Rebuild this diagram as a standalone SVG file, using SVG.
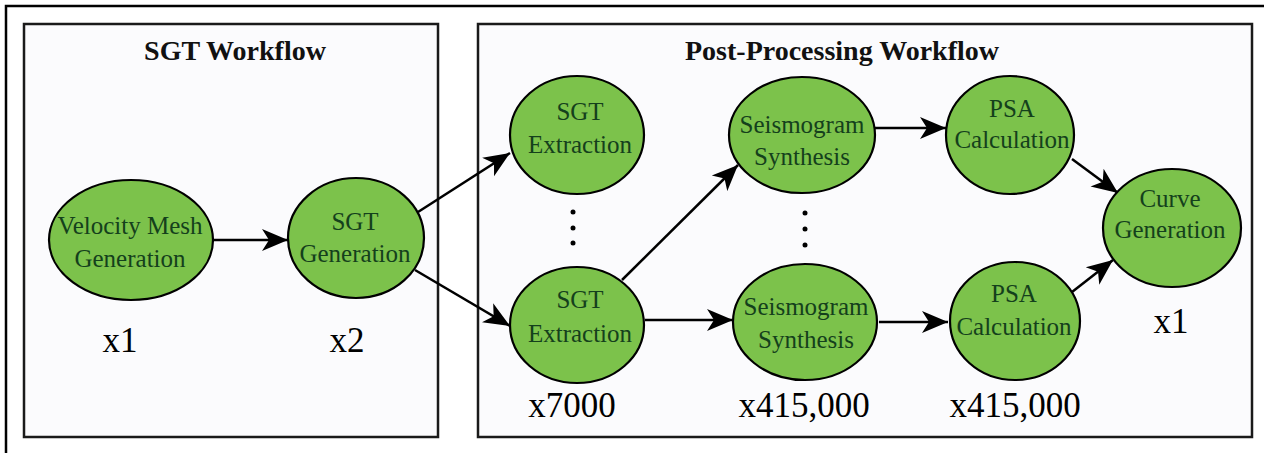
<svg xmlns="http://www.w3.org/2000/svg" width="1264" height="453" viewBox="0 0 1264 453">
<style>
.frame{fill:none;stroke:#000;stroke-width:2.5}
.box{fill:#fbfbfd;stroke:#1a1a1a;stroke-width:2.5}
.node{fill:#7cc24b;stroke:#000;stroke-width:2.2}
.lbl{font-size:25px;fill:#14401c;text-anchor:middle}
.title{font-size:28px;font-weight:bold;fill:#111;text-anchor:middle}
.count{font-size:35px;fill:#000;text-anchor:middle}
.edge{fill:none;stroke:#000;stroke-width:2.5;marker-end:url(#ah)}
.dot{fill:#000}
</style>
<defs>
<marker id="ah" markerUnits="userSpaceOnUse" markerWidth="28" markerHeight="24" viewBox="0 0 28 24" refX="26" refY="12" orient="auto">
<path d="M0,1 L26,12 L0,23 L7,12 z" fill="#000"/>
</marker>
</defs>
<rect width="1264" height="453" fill="#fff"/>
<path class="frame" d="M6,453 L6,6 L1264,6"/>
<g font-family="'Liberation Serif', 'DejaVu Serif', serif">
<g id="sgt-workflow">
<rect class="box" x="24" y="24" width="414" height="413"/>
<text class="title" x="235" y="60">SGT Workflow</text>
</g>
<g id="post-processing-workflow">
<rect class="box" x="478" y="24" width="774" height="413"/>
<text class="title" x="842" y="60">Post-Processing Workflow</text>
</g>
<g id="connectors">
<line class="edge" x1="213" y1="240" x2="288" y2="240"/>
<line class="edge" x1="418" y1="212" x2="510" y2="153"/>
<line class="edge" x1="415" y1="270" x2="510" y2="326"/>
<line class="edge" x1="622" y1="280" x2="738" y2="165"/>
<line class="edge" x1="645" y1="320" x2="733" y2="320"/>
<line class="edge" x1="875" y1="128" x2="946" y2="128"/>
<line class="edge" x1="879" y1="322" x2="948" y2="322"/>
<line class="edge" x1="1072" y1="159" x2="1118" y2="193"/>
<line class="edge" x1="1072" y1="292" x2="1113" y2="260"/>
</g>
<g id="velocity-mesh">
<ellipse class="node" cx="131" cy="240" rx="82" ry="60"/>
<text class="lbl" x="130" y="234">Velocity Mesh</text>
<text class="lbl" x="130" y="267">Generation</text>
<text class="count" x="120" y="352">x1</text>
</g>
<g id="sgt-generation">
<ellipse class="node" cx="356" cy="238" rx="68" ry="60"/>
<text class="lbl" x="355" y="230">SGT</text>
<text class="lbl" x="355" y="262">Generation</text>
<text class="count" x="347" y="352">x2</text>
</g>
<g id="sgt-extraction-1">
<ellipse class="node" cx="577" cy="135" rx="67" ry="59"/>
<text class="lbl" x="580" y="120">SGT</text>
<text class="lbl" x="580" y="153">Extraction</text>
</g>
<g id="dots-1">
<circle class="dot" cx="573" cy="212" r="2.5"/>
<circle class="dot" cx="573" cy="228" r="2.5"/>
<circle class="dot" cx="573" cy="243" r="2.5"/>
</g>
<g id="sgt-extraction-2">
<ellipse class="node" cx="577" cy="325" rx="67" ry="58"/>
<text class="lbl" x="580" y="308">SGT</text>
<text class="lbl" x="580" y="342">Extraction</text>
<text class="count" x="572" y="417">x7000</text>
</g>
<g id="seismogram-1">
<ellipse class="node" cx="802" cy="135" rx="73" ry="58"/>
<text class="lbl" x="802" y="133">Seismogram</text>
<text class="lbl" x="802" y="165">Synthesis</text>
</g>
<g id="dots-2">
<circle class="dot" cx="805" cy="213" r="2.5"/>
<circle class="dot" cx="805" cy="229" r="2.5"/>
<circle class="dot" cx="805" cy="245" r="2.5"/>
</g>
<g id="seismogram-2">
<ellipse class="node" cx="805" cy="322" rx="72" ry="58"/>
<text class="lbl" x="806" y="315">Seismogram</text>
<text class="lbl" x="806" y="348">Synthesis</text>
<text class="count" x="804" y="417">x415,000</text>
</g>
<g id="psa-1">
<ellipse class="node" cx="1010" cy="135" rx="64" ry="59"/>
<text class="lbl" x="1012" y="117">PSA</text>
<text class="lbl" x="1012" y="148">Calculation</text>
</g>
<g id="psa-2">
<ellipse class="node" cx="1015" cy="321" rx="65" ry="59"/>
<text class="lbl" x="1014" y="302">PSA</text>
<text class="lbl" x="1014" y="335">Calculation</text>
<text class="count" x="1015" y="417">x415,000</text>
</g>
<g id="curve-generation">
<ellipse class="node" cx="1172" cy="228" rx="69" ry="59"/>
<text class="lbl" x="1170" y="207">Curve</text>
<text class="lbl" x="1170" y="238">Generation</text>
<text class="count" x="1171" y="333">x1</text>
</g>
</g>
</svg>
